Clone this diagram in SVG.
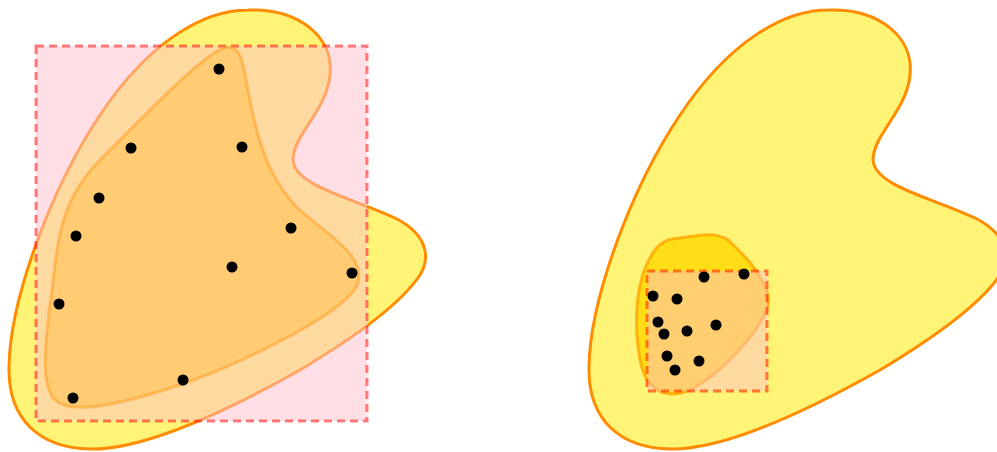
<svg xmlns="http://www.w3.org/2000/svg" width="997" height="452" viewBox="0 0 997 452">
  <defs>
    <style>
      .outer { fill: #fff475; stroke: #ff8c00; stroke-width: 3; stroke-linejoin: round; }
      .inner { fill: #ffa500; fill-opacity: 0.28; stroke: #ff8c00; stroke-opacity: 0.4; stroke-width: 3; }
      .small { fill: #ffd700; fill-opacity: 0.8; stroke: #ffa500; stroke-opacity: 0.8; stroke-width: 3; }
      .boxL { fill: #ffc0cb; fill-opacity: 0.5; stroke: #ff0000; stroke-opacity: 0.5; stroke-width: 3; stroke-dasharray: 8 5; }
      .boxR { fill: #ffc0cb; fill-opacity: 0.5; stroke: #ff4500; stroke-opacity: 0.7; stroke-width: 3; stroke-dasharray: 8 5; }
      .pt { fill: #000000; }
    </style>
    <path id="blob" d="M 248 10 C 300 8 334 38 330 75 C 327 110 293 135 293 160 C 295 186 350 197 395 218 C 425 233 432 255 420 275 C 400 305 350 340 300 370 C 220 415 140 450 90 449 C 40 448 8 420 9 367 C 10 300 50 190 100 115 C 150 40 205 10 248 10 Z"/>
  </defs>

  <g id="left-shape">
    <use href="#blob" class="outer"/>
  </g>
  <g id="left-box">
    <rect class="boxL" x="36" y="46" width="331" height="375"/>
  </g>
  <g id="left-inner">
    <path class="inner" d="M 228 47 C 240 47 243 60 248 90 C 256 135 268 180 300 210 C 330 237 365 255 358 283 C 350 310 250 360 180 385 C 120 405 70 415 55 400 C 40 385 45 340 52 290 C 58 240 60 200 100 160 C 150 110 210 47 228 47 Z"/>
  </g>
  <g id="left-points">
    <circle class="pt" cx="219" cy="69" r="5.5"/>
    <circle class="pt" cx="131" cy="148" r="5.5"/>
    <circle class="pt" cx="242" cy="147" r="5.5"/>
    <circle class="pt" cx="99" cy="198" r="5.5"/>
    <circle class="pt" cx="76" cy="236" r="5.5"/>
    <circle class="pt" cx="291" cy="228" r="5.5"/>
    <circle class="pt" cx="232" cy="267" r="5.5"/>
    <circle class="pt" cx="352" cy="273" r="5.5"/>
    <circle class="pt" cx="59" cy="304" r="5.5"/>
    <circle class="pt" cx="183" cy="380" r="5.5"/>
    <circle class="pt" cx="73" cy="398" r="5.5"/>
  </g>

  <g id="right-shape">
    <use href="#blob" class="outer" transform="translate(580,0)"/>
  </g>
  <g id="right-inner">
    <path class="small" d="M 680 238 C 700 235 715 232 728 240 C 745 255 772 285 768 305 C 762 330 720 375 690 390 C 660 402 645 385 640 360 C 633 320 636 275 655 250 C 663 240 670 239 680 238 Z"/>
  </g>
  <g id="right-box">
    <rect class="boxR" x="647" y="271" width="120" height="120"/>
  </g>
  <g id="right-points">
    <circle class="pt" cx="704" cy="277" r="5.5"/>
    <circle class="pt" cx="744" cy="274" r="5.5"/>
    <circle class="pt" cx="653" cy="296" r="5.5"/>
    <circle class="pt" cx="677" cy="299" r="5.5"/>
    <circle class="pt" cx="658" cy="322" r="5.5"/>
    <circle class="pt" cx="664" cy="334" r="5.5"/>
    <circle class="pt" cx="687" cy="331" r="5.5"/>
    <circle class="pt" cx="716" cy="325" r="5.5"/>
    <circle class="pt" cx="667" cy="356" r="5.5"/>
    <circle class="pt" cx="699" cy="361" r="5.5"/>
    <circle class="pt" cx="675" cy="370" r="5.5"/>
  </g>
</svg>
